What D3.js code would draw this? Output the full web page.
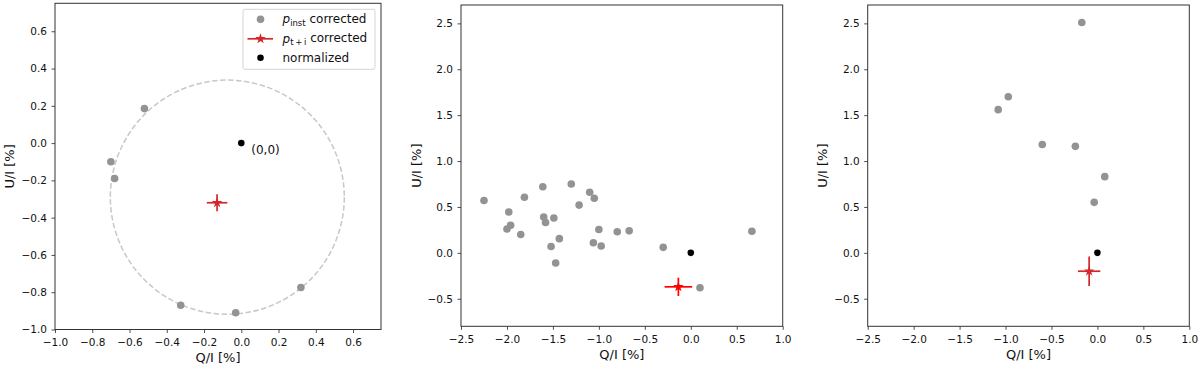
<!DOCTYPE html>
<html>
<head>
<meta charset="utf-8">
<script src="https://cdn.jsdelivr.net/npm/d3@7"></script>
<style>
  body { margin: 0; background: #fff; }
  svg { display: block; }
</style>
</head>
<body>
<svg id="chart" width="1200" height="367" font-family="DejaVu Sans"></svg>
<script>
// ---- data: panel 1 ----
const instQ1 = [-0.52, -0.70, -0.68, -0.325, -0.03, 0.32];
const instU1 = [0.185, -0.10, -0.19, -0.87, -0.91, -0.775];
const starQ1 = [-0.13], starU1 = [-0.32];
const starQErr1 = [0.055], starUErr1 = [0.045];
const circleQ1 = -0.075, circleU1 = -0.29, circleR1 = 0.628;

// ---- data: panel 2 ----
const instQ2 = [-2.25, -1.98, -1.96, -2.00, -1.85, -1.81, -1.61, -1.60, -1.58, -1.49, -1.52, -1.43, -1.47,
                -1.30, -1.215, -1.10, -1.05, -1.00, -1.06, -0.975, -0.80, -0.67, -0.30, 0.665, 0.10];
const instU2 = [0.57, 0.445, 0.30, 0.26, 0.20, 0.605, 0.72, 0.39, 0.33, 0.38, 0.07, 0.155, -0.11,
                0.75, 0.52, 0.66, 0.595, 0.255, 0.11, 0.075, 0.23, 0.24, 0.06, 0.235, -0.38];
const starQ2 = [-0.135], starU2 = [-0.37];
const starQErr2 = [0.15], starUErr2 = [0.10];

// ---- data: panel 3 ----
const instQ3 = [-0.17, -0.97, -1.08, -0.60, -0.24, 0.08, -0.035];
const instU3 = [2.51, 1.70, 1.56, 1.18, 1.16, 0.83, 0.55];
const starQ3 = [-0.09], starU3 = [-0.20];
const starQErr3 = [0.122], starUErr3 = [0.16];

// ---- ticks ----
const ticks1 = [-1.0, -0.8, -0.6, -0.4, -0.2, 0.0, 0.2, 0.4, 0.6];
const ticksQ23 = [-2.5, -2.0, -1.5, -1.0, -0.5, 0.0, 0.5, 1.0];
const ticksU23 = [-0.5, 0.0, 0.5, 1.0, 1.5, 2.0, 2.5];

const legendLabels = ["corrected", "corrected", "normalized"];

const svg = d3.select("#chart");
const fmt = d3.format(".1f");
const grey = "#939393";
const FONT = "DejaVu Sans";
const STAR = 34;

function panel(cfg) {
  const x = d3.scaleLinear().domain(cfg.xDom).range([cfg.left, cfg.right]);
  const y = d3.scaleLinear().domain(cfg.yDom).range([cfg.bottom, cfg.top]);
  const g = svg.append("g").attr("font-family", FONT);

  // axes
  const xa = g.append("g").attr("transform", `translate(0,${cfg.bottom})`)
    .call(d3.axisBottom(x).tickValues(cfg.xTicks).tickFormat(fmt).tickSize(3.5).tickSizeOuter(0));
  const ya = g.append("g").attr("transform", `translate(${cfg.left},0)`)
    .call(d3.axisLeft(y).tickValues(cfg.yTicks).tickFormat(fmt).tickSize(3.5).tickSizeOuter(0));
  [xa, ya].forEach(a => {
    a.attr("font-family", FONT).attr("font-size", 10.5);
    a.select(".domain").remove();
    a.selectAll("line").attr("stroke", "#222").attr("stroke-width", 0.8);
    a.selectAll("text").attr("fill", "#111");
  });
  xa.selectAll("text").attr("dy", "0.95em");
  ya.selectAll("text").attr("dx", "-0.15em");

  g.append("rect")
    .attr("x", cfg.left).attr("y", cfg.top)
    .attr("width", cfg.right - cfg.left).attr("height", cfg.bottom - cfg.top)
    .attr("fill", "none").attr("stroke", "#333").attr("stroke-width", 1);

  g.append("text")
    .attr("x", (cfg.left + cfg.right) / 2).attr("y", cfg.bottom + 32.5)
    .attr("text-anchor", "middle").attr("font-size", 13).attr("fill", "#111")
    .text("Q/I [%]");
  g.append("text")
    .attr("transform", `translate(${cfg.yLabelX},${(cfg.top + cfg.bottom) / 2}) rotate(-90)`)
    .attr("text-anchor", "middle").attr("dy", "0.35em").attr("font-size", 13).attr("fill", "#111")
    .text("U/I [%]");

  const plot = g.append("g");

  if (cfg.circle) {
    const c = cfg.circle;
    plot.append("ellipse")
      .attr("cx", x(c.q)).attr("cy", y(c.u))
      .attr("rx", Math.abs(x(c.r) - x(0))).attr("ry", Math.abs(y(c.r) - y(0)))
      .attr("fill", "none").attr("stroke", "#c8c8c8").attr("stroke-width", 1.5)
      .attr("stroke-dasharray", "5.5,2.5");
  }

  plot.selectAll(".inst").data(cfg.instQ).join("circle")
    .attr("cx", d => x(d)).attr("cy", (d, i) => y(cfg.instU[i]))
    .attr("r", 3.8).attr("fill", grey);

  // star with error bars
  const sx = x(cfg.starQ[0]), sy = y(cfg.starU[0]);
  plot.append("line")
    .attr("x1", x(cfg.starQ[0] - cfg.starQErr[0])).attr("x2", x(cfg.starQ[0] + cfg.starQErr[0]))
    .attr("y1", sy).attr("y2", sy)
    .attr("stroke", cfg.starColor).attr("stroke-width", 1.7);
  plot.append("line")
    .attr("x1", sx).attr("x2", sx)
    .attr("y1", y(cfg.starU[0] - cfg.starUErr[0])).attr("y2", y(cfg.starU[0] + cfg.starUErr[0]))
    .attr("stroke", cfg.starColor).attr("stroke-width", 1.7);
  plot.append("path")
    .attr("d", d3.symbol(d3.symbolStar, STAR)())
    .attr("transform", `translate(${sx},${sy})`)
    .attr("fill", cfg.starColor);

  // normalized point
  plot.append("path")
    .attr("d", d3.symbol(d3.symbolCircle, 34)())
    .attr("transform", `translate(${x(0)},${y(0)})`)
    .attr("fill", "#000");

  if (cfg.origin) {
    plot.append("text")
      .attr("x", x(0) + 10).attr("y", y(0) + 10.5)
      .attr("font-size", 12).attr("fill", "#111")
      .text("(0,0)");
  }

  if (cfg.legend) {
    const lg = g.append("g").attr("transform", `translate(${cfg.right - 138},${cfg.top + 6})`);
    lg.append("rect").attr("width", 132).attr("height", 60).attr("rx", 2)
      .attr("fill", "#fff").attr("fill-opacity", 0.8).attr("stroke", "#d5d5d5");
    const rowY = [10, 29.5, 48.5];
    lg.append("circle").attr("cx", 17.5).attr("cy", rowY[0]).attr("r", 3.8).attr("fill", grey);
    lg.append("line").attr("x1", 4.5).attr("x2", 30).attr("y1", rowY[1]).attr("y2", rowY[1])
      .attr("stroke", "#d62728").attr("stroke-width", 1.7);
    lg.append("path").attr("d", d3.symbol(d3.symbolStar, STAR)())
      .attr("transform", `translate(17.5,${rowY[1]})`).attr("fill", "#d62728");
    lg.append("path").attr("d", d3.symbol(d3.symbolCircle, 34)())
      .attr("transform", `translate(17.5,${rowY[2]})`).attr("fill", "#000");

    const tx = 39.5;
    const t0 = lg.append("text").attr("x", tx).attr("y", rowY[0]).attr("dy", "0.35em")
      .attr("font-size", 12).attr("fill", "#111");
    t0.append("tspan").attr("font-style", "italic").text("p");
    t0.append("tspan").attr("dy", "0.25em").attr("font-size", 8.5).text("inst");
    t0.append("tspan").attr("dy", "-0.25em").text(" " + legendLabels[0]);

    const t1 = lg.append("text").attr("x", tx).attr("y", rowY[1]).attr("dy", "0.35em")
      .attr("font-size", 12).attr("fill", "#111");
    t1.append("tspan").attr("font-style", "italic").text("p");
    t1.append("tspan").attr("dy", "0.25em").attr("font-size", 8.5).text("t\u2009+\u2009i");
    t1.append("tspan").attr("dy", "-0.25em").text(" " + legendLabels[1]);

    lg.append("text").attr("x", tx).attr("y", rowY[2]).attr("dy", "0.35em")
      .attr("font-size", 12).attr("fill", "#111").text(legendLabels[2]);
  }
}

panel({
  left: 55, right: 381, top: 3.3, bottom: 329.5, yLabelX: 9.5,
  xDom: [-1.0, 0.75], yDom: [-1.0, 0.75], xTicks: ticks1, yTicks: ticks1,
  instQ: instQ1, instU: instU1, starQ: starQ1, starU: starU1, starQErr: starQErr1, starUErr: starUErr1,
  starColor: "#d62728", circle: { q: circleQ1, u: circleU1, r: circleR1 }, origin: true, legend: true
});

panel({
  left: 461, right: 782.7, top: 5, bottom: 326.3, yLabelX: 416,
  xDom: [-2.5, 1.0], yDom: [-0.8, 2.7], xTicks: ticksQ23, yTicks: ticksU23,
  instQ: instQ2, instU: instU2, starQ: starQ2, starU: starU2, starQErr: starQErr2, starUErr: starUErr2,
  starColor: "#ff0000"
});

panel({
  left: 867.7, right: 1189.3, top: 5, bottom: 326.3, yLabelX: 822,
  xDom: [-2.5, 1.0], yDom: [-0.8, 2.7], xTicks: ticksQ23, yTicks: ticksU23,
  instQ: instQ3, instU: instU3, starQ: starQ3, starU: starU3, starQErr: starQErr3, starUErr: starUErr3,
  starColor: "#d62728"
});
</script>
</body>
</html>
